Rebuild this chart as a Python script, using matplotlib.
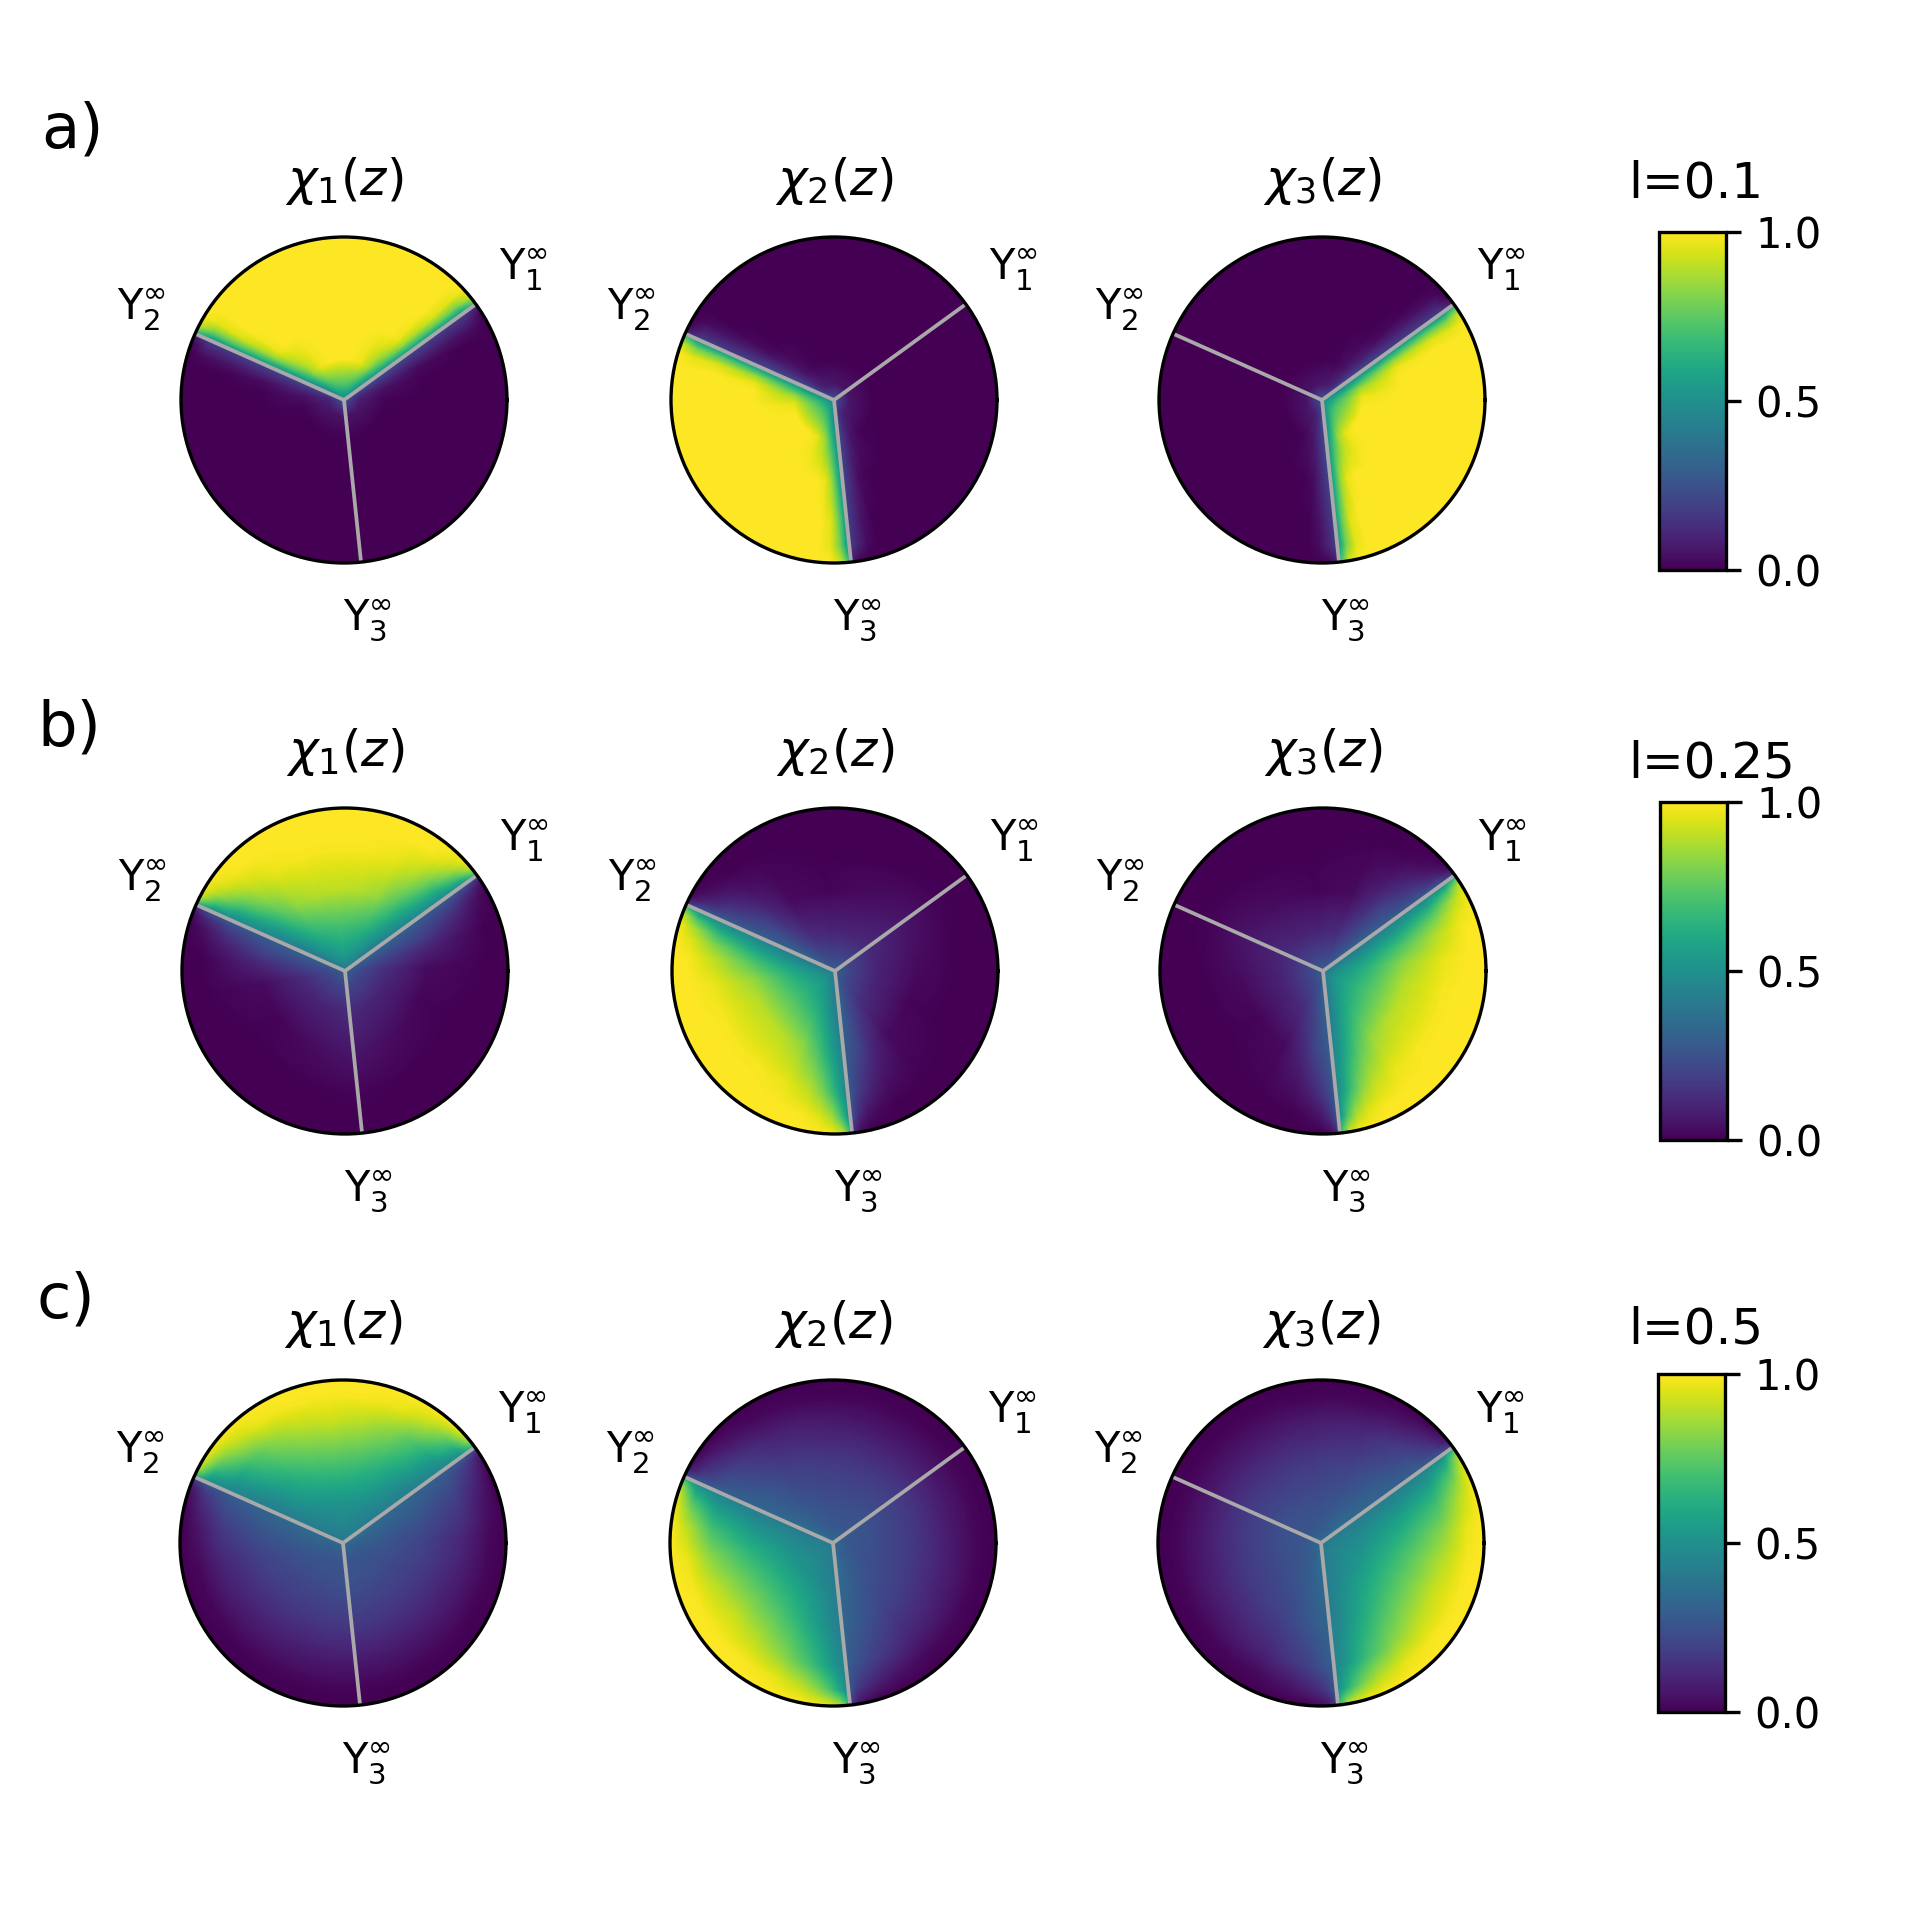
import numpy as np
import matplotlib
matplotlib.use("Agg")
import matplotlib.pyplot as plt

# Readings from the picture
panel_letters = ['a)', 'b)', 'c)']
level_labels = ['l=0.1', 'l=0.25', 'l=0.5']
titles = [r'$\chi_1(z)$', r'$\chi_2(z)$', r'$\chi_3(z)$']
ray_labels = [r'Y$^{\infty}_{1}$', r'Y$^{\infty}_{2}$', r'Y$^{\infty}_{3}$']
ray_angles = [36, 156, 276]  # degrees

# radial knots of the tables below
radii = [0, 0.1, 0.25, 0.5, 0.75, 0.9, 1.0]
# fraction of the sector away from the nearest ray, own sector
own_pos = [0, 0.01, 0.03, 0.06, 0.1, 0.15, 0.25, 0.37, 0.5]
# fraction of the sector away from the ray shared with the own sector
other_pos = [0, 0.01, 0.03, 0.06, 0.1, 0.16, 0.28, 0.5, 0.75, 1]

own_l01 = [
    [.45, .45, .45, .45, .45, .45, .45, .45, .45],
    [.45, .46, .47, .50, .54, .60, .68, .72, .74],
    [.50, .51, .56, .64, .74, .86, .97, 1, 1],
    [.50, .56, .68, .85, .97, 1, 1, 1, 1],
    [.50, .60, .78, .95, 1, 1, 1, 1, 1],
    [.50, .60, .80, .96, 1, 1, 1, 1, 1],
    [.55, .75, .93, 1, 1, 1, 1, 1, 1],
]
own_l025 = [
    [.40, .40, .40, .40, .40, .40, .40, .40, .40],
    [.40, .40, .41, .42, .44, .47, .50, .53, .55],
    [.42, .42, .43, .46, .50, .55, .62, .66, .68],
    [.45, .46, .49, .55, .63, .72, .84, .89, .90],
    [.45, .49, .57, .69, .81, .90, .97, .99, .99],
    [.47, .56, .72, .87, .95, .99, 1, 1, 1],
    [.50, .76, .93, .99, 1, 1, 1, 1, 1],
]
own_l05 = [
    [.40, .40, .40, .40, .40, .40, .40, .40, .40],
    [.40, .40, .40, .41, .42, .43, .44, .45, .46],
    [.42, .42, .42, .43, .45, .46, .49, .51, .52],
    [.43, .43, .44, .47, .51, .56, .64, .70, .72],
    [.45, .46, .49, .55, .63, .71, .82, .89, .92],
    [.46, .51, .60, .72, .82, .90, .97, .99, .99],
    [.50, .75, .89, .96, .99, 1, 1, 1, 1],
]
other_l01 = [
    [.25, .25, .25, .25, .25, .25, .25, .25, .25, .25],
    [.25, .25, .24, .20, .16, .12, .08, .06, .05, .05],
    [.25, .24, .20, .16, .11, .05, .01, 0, 0, 0],
    [.20, .19, .16, .10, .03, .005, 0, 0, 0, 0],
    [.20, .17, .12, .05, .005, 0, 0, 0, 0, 0],
    [.20, .16, .10, .03, 0, 0, 0, 0, 0, 0],
    [.20, .06, .01, 0, 0, 0, 0, 0, 0, 0],
]
other_l025 = [
    [.30, .30, .30, .30, .30, .30, .30, .30, .30, .30],
    [.33, .33, .32, .30, .28, .25, .22, .20, .20, .20],
    [.32, .32, .30, .28, .24, .20, .13, .10, .10, .12],
    [.30, .29, .27, .24, .20, .12, .03, .01, .03, .06],
    [.30, .27, .21, .15, .09, .04, .01, 0, 0, .01],
    [.30, .22, .12, .05, .02, 0, 0, 0, 0, 0],
    [.35, .10, .02, 0, 0, 0, 0, 0, 0, 0],
]
other_l05 = [
    [.35, .35, .35, .35, .35, .35, .35, .35, .35, .35],
    [.38, .38, .37, .36, .35, .33, .30, .28, .27, .27],
    [.35, .35, .34, .33, .32, .30, .27, .24, .24, .25],
    [.32, .32, .31, .30, .28, .25, .20, .17, .16, .17],
    [.30, .29, .27, .24, .20, .16, .10, .07, .06, .06],
    [.30, .25, .18, .13, .09, .05, .02, .01, .01, .01],
    [.35, .15, .05, .02, 0, 0, 0, 0, 0, 0],
]
own_tables = [own_l01, own_l025, own_l05]
other_tables = [other_l01, other_l025, other_l05]

# pixel layout of the 1920x1912 figure
W, H = 1920, 1912
R = 163
row_y = [400, 971, 1543]
row_dx = [0, 1, -1]
col_x = [344, 834, 1322]
cbar_box = [(1659, 232, 67, 338), (1660, 802, 67, 338), (1658, 1374, 67, 338)]
letter_pos = [(41, 147), (37, 745), (37, 1318)]
level_x = 1628
level_y = [197, 777, 1343]


def draw_sector(ax, start, pos, table):
    # resample the read-off table for a smooth shaded wedge
    table = np.asarray(table, dtype=float)
    fine_pos = np.unique(np.concatenate([pos, np.linspace(0, 1, 160)]))
    fine_r = np.linspace(0, 1.01, 120)
    by_pos = np.array([np.interp(fine_pos, pos, row) for row in table])
    fine = np.array([np.interp(fine_r, radii, col) for col in by_pos.T]).T
    theta = np.deg2rad(start + 120 * fine_pos)
    return ax.pcolormesh(theta, fine_r, fine, shading='gouraud',
                         cmap='viridis', vmin=0, vmax=1)


fig = plt.figure(figsize=(W / 300, H / 300), dpi=300)

for i in range(3):
    own = np.asarray(own_tables[i])
    other = np.asarray(other_tables[i])
    own_full_pos = own_pos + [1 - p for p in own_pos[-2::-1]]
    own_full = np.hstack([own, own[:, -2::-1]])

    for k in range(3):
        cx = col_x[k] + row_dx[i]
        cy = row_y[i]
        ax = fig.add_axes([(cx - R) / W, 1 - (cy + R) / H, 2 * R / W, 2 * R / H],
                          projection='polar')
        # own sector runs from ray k to ray k+1
        mesh = draw_sector(ax, ray_angles[k], own_full_pos, own_full)
        # next sector starts on the shared ray k+1
        draw_sector(ax, ray_angles[k] + 120, other_pos, other)
        # previous sector ends on the shared ray k
        draw_sector(ax, ray_angles[k] - 120, [1 - p for p in other_pos[::-1]], other[:, ::-1])

        for a in ray_angles:
            ax.plot(np.deg2rad([a, a]), [0, 1], color='darkgrey', lw=0.9)
        for a, lab in zip(ray_angles, ray_labels):
            ax.text(np.deg2rad(a), 1.36, lab, ha='center', va='center', fontsize=10)

        ax.set_ylim(0, 1)
        ax.set_xticks([])
        ax.set_yticks([])
        ax.grid(False)
        ax.set_title(titles[k], fontsize=12, pad=10)

    x0, y0, w, h = cbar_box[i]
    cax = fig.add_axes([x0 / W, 1 - (y0 + h) / H, w / W, h / H])
    fig.colorbar(mesh, cax=cax, ticks=[0, 0.5, 1])
    cax.set_yticklabels(['0.0', '0.5', '1.0'])
    fig.text(level_x / W, 1 - level_y[i] / H, level_labels[i], fontsize=12)
    fig.text(letter_pos[i][0] / W, 1 - letter_pos[i][1] / H, panel_letters[i], fontsize=15)

fig.savefig('out.png', dpi=300)
